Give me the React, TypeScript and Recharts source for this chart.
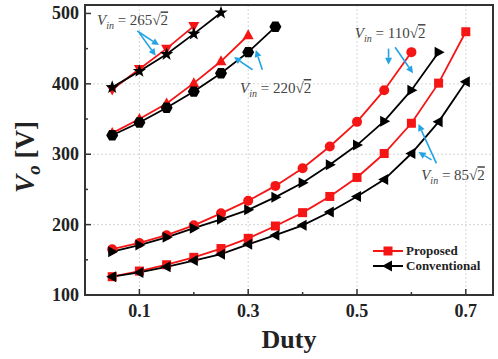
import {
  CartesianGrid,
  Legend,
  Line,
  LineChart,
  ReferenceArea,
  ReferenceDot,
  ReferenceLine,
  XAxis,
  YAxis,
} from "recharts";

// duty ratio (x) and output voltage Vo [V] for each input voltage
const duty = [0.05, 0.1, 0.15, 0.2, 0.25, 0.3, 0.35, 0.4, 0.45, 0.5, 0.55, 0.6, 0.65, 0.7];
const prop265 = [392, 421, 450, 482];
const conv265 = [395, 418, 442, 471, 501];
const prop220 = [330, 350, 372, 401, 432, 469];
const conv220 = [327, 345, 366, 389, 415, 445, 481];
const prop110 = [165, 174, 185, 199, 216, 234, 255, 280, 311, 346, 391, 445];
const conv110 = [161.5, 171, 182, 195, 207.5, 221, 239, 259.5, 285, 313, 347, 391, 445];
const prop85 = [126, 134, 143, 153.5, 166, 180.5, 198, 217, 240, 267, 301, 344, 401, 474];
const conv85 = [126, 132, 140, 149, 158, 172, 185, 199, 218, 240, 264, 301, 346, 403];

const xTicks = [0.1, 0.2, 0.3, 0.4, 0.5, 0.6, 0.7];
const yTicks = [100, 150, 200, 250, 300, 350, 400, 450, 500];

// annotation labels: [text after "V_in = ", duty, Vo]
const vinLabels: [string, number, number][] = [
  ["265", 0.022, 483],
  ["220", 0.285, 387],
  ["110", 0.496, 465],
  ["85", 0.618, 263],
];
// blue arrows: [fromDuty, fromVo, toDuty, toVo]
const arrows: [number, number, number, number][] = [
  [0.096, 475, 0.136, 455],
  [0.1, 472, 0.13, 440],
  [0.308, 420, 0.274, 438],
  [0.326, 420, 0.314, 448],
  [0.558, 450, 0.558, 427],
  [0.57, 452, 0.603, 415],
  [0.646, 287, 0.613, 343],
  [0.637, 292, 0.613, 303],
];

const rows = duty.map((d, i) => ({
  d,
  p265: prop265[i] ?? null,
  c265: conv265[i] ?? null,
  p220: prop220[i] ?? null,
  c220: conv220[i] ?? null,
  p110: prop110[i] ?? null,
  c110: conv110[i] ?? null,
  p85: prop85[i] ?? null,
  c85: conv85[i] ?? null,
}));

const RED = "#f51515";
const BLACK = "#000";
const BLUE = "#22a3e6";
const AXIS = "#333";
const FONT = "'Liberation Serif', 'Times New Roman', serif";

type Kind = "square" | "circle" | "triUp" | "triDown" | "triLeft" | "triRight" | "star" | "hexagon";

function Marker({ cx, cy, kind, color }: { cx: number; cy: number; kind: Kind; color: string }) {
  switch (kind) {
    case "square":
      return <rect x={cx - 4.5} y={cy - 4.5} width={9} height={9} fill={color} />;
    case "circle":
      return <circle cx={cx} cy={cy} r={5} fill={color} />;
    case "triUp":
      return <polygon points={`${cx},${cy - 6} ${cx - 5.5},${cy + 4} ${cx + 5.5},${cy + 4}`} fill={color} />;
    case "triDown":
      return <polygon points={`${cx},${cy + 6} ${cx - 5.5},${cy - 4} ${cx + 5.5},${cy - 4}`} fill={color} />;
    case "triLeft":
      return <polygon points={`${cx - 6},${cy} ${cx + 4},${cy - 5.5} ${cx + 4},${cy + 5.5}`} fill={color} />;
    case "triRight":
      return <polygon points={`${cx + 6},${cy} ${cx - 4},${cy - 5.5} ${cx - 4},${cy + 5.5}`} fill={color} />;
    case "hexagon": {
      const pts = [0, 1, 2, 3, 4, 5]
        .map((k) => {
          const a = (Math.PI / 3) * k;
          return `${cx + 6 * Math.cos(a)},${cy + 6 * Math.sin(a)}`;
        })
        .join(" ");
      return <polygon points={pts} fill={color} />;
    }
    case "star": {
      const pts = Array.from({ length: 10 }, (_, k) => {
        const r = k % 2 === 0 ? 7 : 2.8;
        const a = -Math.PI / 2 + (Math.PI / 5) * k;
        return `${cx + r * Math.cos(a)},${cy + r * Math.sin(a)}`;
      }).join(" ");
      return <polygon points={pts} fill={color} />;
    }
  }
  return <circle cx={cx} cy={cy} r={5} fill={color} />;
}

const dotFor = (kind: Kind, color: string) => (p: any) => {
  if (p.cx == null || p.cy == null || p.value == null) return <g key={p.index} />;
  return <Marker key={p.index} cx={p.cx} cy={p.cy} kind={kind} color={color} />;
};

function YTick(props: any) {
  const { x, y, payload } = props;
  const major = payload.value % 100 === 0;
  return (
    <g>
      <line x1={x + 6} x2={x + 6 + (major ? 6 : 3)} y1={y} y2={y} stroke={AXIS} strokeWidth={1.5} />
      {major && (
        <text x={x} y={y} dy={6} textAnchor="end" fontFamily={FONT} fontWeight="bold" fontSize={18} fill="#222">
          {payload.value}
        </text>
      )}
    </g>
  );
}

function XTick(props: any) {
  const { x, y, payload } = props;
  const major = Math.round(payload.value * 10) % 2 === 1;
  return (
    <g>
      <line x1={x} x2={x} y1={y} y2={y - (major ? 6 : 3)} stroke={AXIS} strokeWidth={1.5} />
      {major && (
        <text x={x} y={y} dy={22} textAnchor="middle" fontFamily={FONT} fontWeight="bold" fontSize={18} fill="#222">
          {payload.value}
        </text>
      )}
    </g>
  );
}

function ArrowShape(p: any) {
  const { x1, y1, x2, y2 } = p;
  const a = Math.atan2(y2 - y1, x2 - x1);
  const L = 7;
  const W = 3.5;
  const bx = x2 - L * Math.cos(a);
  const by = y2 - L * Math.sin(a);
  const nx = -Math.sin(a);
  const ny = Math.cos(a);
  return (
    <g>
      <line x1={x1} y1={y1} x2={bx} y2={by} stroke={BLUE} strokeWidth={1.6} />
      <polygon points={`${x2},${y2} ${bx + nx * W},${by + ny * W} ${bx - nx * W},${by - ny * W}`} fill={BLUE} />
    </g>
  );
}

const vinText = (num: string) => (p: any) => (
  <text x={p.cx} y={p.cy} fontFamily={FONT} fontSize={15} fill="#444">
    <tspan fontStyle="italic">V</tspan>
    <tspan fontStyle="italic" fontSize={10} dy={4}>in</tspan>
    <tspan dy={-4}>{` = ${num}\u221A`}</tspan>
    <tspan textDecoration="overline">2</tspan>
  </text>
);

function LegendBox() {
  const item = (kind: Kind, color: string, label: string) => (
    <div style={{ display: "flex", alignItems: "center", height: 15 }}>
      <svg width={32} height={14}>
        <line x1={1} x2={31} y1={7} y2={7} stroke={color} strokeWidth={2} />
        <Marker cx={16} cy={7} kind={kind} color={color} />
      </svg>
      <span style={{ fontFamily: FONT, fontWeight: "bold", fontSize: 13, color: "#222", marginLeft: 2 }}>{label}</span>
    </div>
  );
  return (
    <div>
      {item("square", RED, "Proposed")}
      {item("triLeft", BLACK, "Conventional")}
    </div>
  );
}

export default function App() {
  return (
    <div style={{ position: "absolute", left: 0, top: 0 }}>
      <LineChart width={498} height={359} data={rows} margin={{ top: 5, right: 5, bottom: 0, left: 0 }}>
        <CartesianGrid
          stroke="#d6d6d6"
          strokeDasharray="2 2"
          horizontalValues={[200, 300, 400]}
          verticalValues={[0.1, 0.3, 0.5, 0.7]}
        />
        <XAxis
          dataKey="d"
          type="number"
          domain={[0, 0.75]}
          ticks={xTicks}
          tick={<XTick />}
          tickLine={false}
          tickSize={0}
          tickMargin={0}
          height={64}
          axisLine={{ stroke: AXIS, strokeWidth: 2 }}
          label={{
            value: "Duty",
            position: "insideBottom",
            offset: 11,
            style: { fontFamily: FONT, fontWeight: "bold", fontSize: 26, fill: "#222" },
          }}
        />
        <YAxis
          type="number"
          domain={[100, 512]}
          ticks={yTicks}
          tick={<YTick />}
          tickLine={false}
          tickSize={0}
          tickMargin={6}
          width={85}
          axisLine={{ stroke: AXIS, strokeWidth: 2 }}
          label={{
            content: () => (
              <text
                transform="translate(34,157) rotate(-90)"
                textAnchor="middle"
                fontFamily={FONT}
                fontWeight="bold"
                fontSize={27}
                fill="#222"
              >
                <tspan fontStyle="italic">V</tspan>
                <tspan fontStyle="italic" fontSize={19} dy={6}>o</tspan>
                <tspan dy={-6}> [V]</tspan>
              </text>
            ),
          }}
        />
        <ReferenceArea x1={0} x2={0.75} y1={100} y2={512} fill="none" stroke={AXIS} strokeWidth={2} />
        <Line dataKey="p265" stroke={RED} strokeWidth={1.8} dot={dotFor("triDown", RED)} isAnimationActive={false} />
        <Line dataKey="c265" stroke={BLACK} strokeWidth={1.8} dot={dotFor("star", BLACK)} isAnimationActive={false} />
        <Line dataKey="p220" stroke={RED} strokeWidth={1.8} dot={dotFor("triUp", RED)} isAnimationActive={false} />
        <Line dataKey="c220" stroke={BLACK} strokeWidth={1.8} dot={dotFor("hexagon", BLACK)} isAnimationActive={false} />
        <Line dataKey="p110" stroke={RED} strokeWidth={1.8} dot={dotFor("circle", RED)} isAnimationActive={false} />
        <Line dataKey="c110" stroke={BLACK} strokeWidth={1.8} dot={dotFor("triRight", BLACK)} isAnimationActive={false} />
        <Line dataKey="p85" stroke={RED} strokeWidth={1.8} dot={dotFor("square", RED)} isAnimationActive={false} />
        <Line dataKey="c85" stroke={BLACK} strokeWidth={1.8} dot={dotFor("triLeft", BLACK)} isAnimationActive={false} />
        {arrows.map(([xa, ya, xb, yb], i) => (
          <ReferenceLine
            key={`ar${i}`}
            segment={[
              { x: xa, y: ya },
              { x: xb, y: yb },
            ]}
            shape={ArrowShape}
          />
        ))}
        {vinLabels.map(([num, x, y]) => (
          <ReferenceDot key={`lb${num}`} x={x} y={y} r={0} shape={vinText(num)} />
        ))}
        <Legend
          layout="vertical"
          align="center"
          verticalAlign="middle"
          content={<LegendBox />}
          wrapperStyle={{ position: "absolute", left: 372, top: 243, width: 120 }}
        />
      </LineChart>
    </div>
  );
}
